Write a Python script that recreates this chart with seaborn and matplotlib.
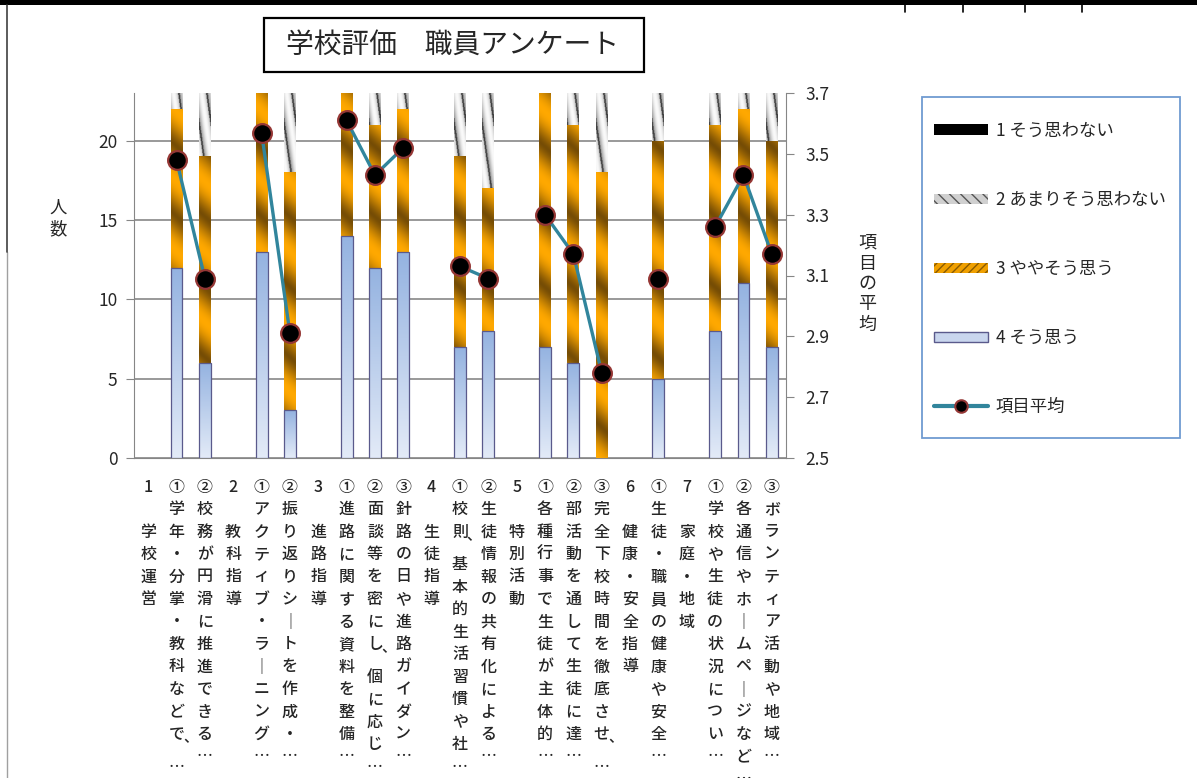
import numpy as np
import pandas as pd
import matplotlib
matplotlib.use("Agg")
import matplotlib.pyplot as plt
from matplotlib.patches import Rectangle, Patch
from matplotlib.lines import Line2D
import seaborn as sns

# ==================== DATA ====================
items = [
    "1　学校運営",
    "①学年・分掌・教科などで、…",
    "②校務が円滑に推進できる…",
    "2　教科指導",
    "①アクティブ・ラーニング…",
    "②振り返りシートを作成・…",
    "3　進路指導",
    "①進路に関する資料を整備…",
    "②面談等を密にし、個に応じ…",
    "③針路の日や進路ガイダン…",
    "4　生徒指導",
    "①校則、基本的生活習慣や社…",
    "②生徒情報の共有化による…",
    "5　特別活動",
    "①各種行事で生徒が主体的…",
    "②部活動を通して生徒に達…",
    "③完全下校時間を徹底させ、…",
    "6　健康・安全指導",
    "①生徒・職員の健康や安全…",
    "7　家庭・地域",
    "①学校や生徒の状況につい…",
    "②各通信やホームページなど…",
    "③ボランティア活動や地域…",
]

# number of staff per answer (4 = そう思う ... 1 = そう思わない)
n4 = [0, 12, 6, 0, 13, 3, 0, 14, 12, 13, 0, 7, 8, 0, 7, 6, 0, 0, 5, 0, 8, 11, 7]
n3 = [0, 10, 13, 0, 10, 15, 0, 9, 9, 9, 0, 12, 9, 0, 16, 15, 18, 0, 15, 0, 13, 11, 13]
n2 = [0, 1, 4, 0, 0, 5, 0, 0, 2, 1, 0, 4, 6, 0, 0, 2, 5, 0, 3, 0, 2, 1, 3]
n1 = [0] * 23

# item average (right axis), headings have no value
avg = [np.nan, 3.48, 3.09, np.nan, 3.57, 2.91, np.nan, 3.61, 3.43, 3.52,
       np.nan, 3.13, 3.09, np.nan, 3.30, 3.17, 2.78, np.nan, 3.09,
       np.nan, 3.26, 3.43, 3.17]

legend_labels = ["1 そう思わない", "2 あまりそう思わない", "3 ややそう思う", "4 そう思う", "項目平均"]

# ==================== STYLE ====================
sns.set_style("white")
plt.rcParams['font.family'] = ['Noto Sans CJK JP', 'DejaVu Sans']

W, H = 1197, 778
AX_L, AX_R, AX_T, AX_B = 134, 786, 93, 458
GRAY = "#868686"
TEAL = "#31859C"
LAB_FS = 11.5

fig = plt.figure(figsize=(W / 100, H / 100), dpi=100)
ax = fig.add_axes([AX_L / W, 1 - AX_B / H, (AX_R - AX_L) / W, (AX_B - AX_T) / H])

df = pd.DataFrame({"item": items, "n4": n4, "n3": n3, "n2": n2, "n1": n1})
df["c3"] = df["n4"] + df["n3"]
df["c2"] = df["c3"] + df["n2"]
df["c1"] = df["c2"] + df["n1"]

# stacked bars: draw cumulative heights, tallest first
layers = [("c1", "#000000"), ("c2", "#C8C8C8"), ("c3", "#F0A000"), ("n4", "#B4C7E7")]
bars = {}
for z, (col, colr) in enumerate(layers):
    n0 = len(ax.patches)
    sns.barplot(data=df, x="item", y=col, order=items, color=colr, saturation=1,
                width=0.42, errorbar=None, linewidth=0, zorder=2 + z, ax=ax)
    bars[col] = ax.patches[n0:]

# ---- gradient fills clipped to the bars ----
PX_X = (AX_R - AX_L) / 23
PX_Y = (AX_B - AX_T) / 23


def orange_fill(h, w):
    ny, nx = max(int(h * PX_Y), 2), max(int(w * PX_X), 2)
    v = np.arange(ny)[:, None]
    u = np.arange(nx)[None, :]
    t = (0.5 + 0.5 * np.cos(2 * np.pi * (v + 1.0 * u) / 70.0)) ** 0.7
    light = np.array([1.0, 0.66, 0.0])
    dark = np.array([0.46, 0.30, 0.02])
    return dark + (light - dark) * t[..., None]


def gray_fill(h, w):
    ny, nx = max(int(h * PX_Y), 2), max(int(w * PX_X) * 2, 4)
    v = np.arange(ny)[:, None]
    u = np.arange(nx)[None, :] / 2.0
    ph = ((u + 0.13 * v) / 11.0) % 1
    val = 0.60 + 0.38 * np.sin(np.pi * ph)
    val[ph > 0.86] = 0.25
    return np.repeat(val[..., None], 3, axis=2)


def blue_fill(h):
    ny = max(int(h * PX_Y), 2)
    t = np.linspace(0, 1, ny)[:, None, None]
    bot = np.array([0.89, 0.92, 0.97])
    top = np.array([0.58, 0.70, 0.88])
    return (bot + (top - bot) * t) * np.ones((1, 2, 1))


for col, maker in [("c2", "gray"), ("c3", "orange"), ("n4", "blue")]:
    for p in bars[col]:
        h, w, x0 = p.get_height(), p.get_width(), p.get_x()
        if h <= 0:
            continue
        if maker == "gray":
            img = gray_fill(h, w)
        elif maker == "orange":
            img = orange_fill(h, w)
        else:
            img = blue_fill(h)
        im = ax.imshow(img, extent=(x0, x0 + w, 0, h), origin="lower", aspect="auto",
                       interpolation="bilinear", zorder=p.get_zorder() + 0.1)
        im.set_clip_path(p)
        if maker == "blue":
            p.set_facecolor("none")
            p.set_edgecolor("#5A5A8C")
            p.set_linewidth(0.9)
            p.set_zorder(p.get_zorder() + 0.2)

ax.set_xlim(-0.5, 22.5)
ax.set_ylim(0, 23)
ax.set_xlabel("")
ax.set_ylabel("")
ax.set_yticks([0, 5, 10, 15, 20])
ax.set_xticks(range(23))
ax.set_xticklabels([])
ax.set_xticks(np.arange(-0.5, 23, 1), minor=True)
ax.tick_params(axis="x", which="major", length=0)
ax.tick_params(axis="x", which="minor", direction="out", length=6, color=GRAY)
ax.tick_params(axis="y", direction="out", length=6, color=GRAY, labelsize=12.5, pad=6)
ax.yaxis.grid(True, color="#878787", linewidth=1.2)
ax.set_axisbelow(True)
for s in ["top", "right"]:
    ax.spines[s].set_visible(False)
for s in ["left", "bottom"]:
    ax.spines[s].set_color(GRAY)

# ---- average line on the right axis ----
ax2 = ax.twinx()
ax2.plot(range(23), avg, color=TEAL, lw=2.4, marker="o", ms=13.5,
         mfc="black", mec="#953735", mew=1.6, zorder=5)
ax2.set_ylim(2.5, 3.7)
ax2.set_yticks(np.round(np.arange(2.5, 3.71, 0.2), 1))
ax2.set_yticklabels([f"{t:.1f}" for t in np.arange(2.5, 3.71, 0.2)])
ax2.tick_params(axis="y", direction="out", length=6, color=GRAY, labelsize=12.5, pad=8)
for s in ["top", "left", "bottom"]:
    ax2.spines[s].set_visible(False)
ax2.spines["right"].set_color(GRAY)

# ---- vertical (stacked) category labels ----
ROW = 22.5
Y0 = 27
for i, lab in enumerate(items):
    y = Y0
    prev_y = y
    for ch in lab:
        if ch == "、":
            ax.annotate(ch, xy=(i, 0), xycoords=("data", "axes fraction"),
                        xytext=(14, -(prev_y + 6)), textcoords="offset pixels",
                        ha="center", va="center", fontsize=LAB_FS - 1,
                        fontweight="medium", annotation_clip=False)
            y += 0.45 * ROW
            continue
        glyph = "｜" if ch == "ー" else ch
        ax.annotate(glyph, xy=(i, 0), xycoords=("data", "axes fraction"),
                    xytext=(0, -(y + 6.5)), textcoords="offset pixels",
                    ha="center", va="baseline", fontsize=LAB_FS,
                    fontweight="medium", annotation_clip=False)
        prev_y = y
        y += ROW

# axis titles (stacked characters)
for k, ch in enumerate("人数"):
    fig.text(58 / W, 1 - (208 + 21 * k) / H, ch, fontsize=12.5, ha="center", va="center")
for k, ch in enumerate("項目の平均"):
    fig.text(867 / W, 1 - (243 + 20.5 * k) / H, ch, fontsize=13, ha="center", va="center")

# ---- title box ----
fig.add_artist(Rectangle((264 / W, 1 - 72 / H), (644 - 264) / W, (72 - 18) / H,
                         transform=fig.transFigure, fill=False, ec="black", lw=1.6))
fig.text(452 / W, 1 - 45 / H, "学校評価　職員アンケート", fontsize=20, ha="center", va="center")

# ---- legend ----
handles = [
    Patch(facecolor="black", edgecolor="black", lw=0),
    Patch(facecolor="#D0D0D0", edgecolor="#555555", hatch="\\\\\\", lw=0),
    Patch(facecolor="#F0A000", edgecolor="#8A5A00", hatch="////", lw=0),
    Patch(facecolor="#C9D6EE", edgecolor="#5A5A8C", lw=1),
    Line2D([0, 1], [0, 0], color=TEAL, lw=3, marker="o", ms=9, mfc="black",
           mec="#953735", mew=1.5),
]
fig.legend(handles=handles, labels=legend_labels, loc="upper left",
           bbox_to_anchor=(934 / W, 1 - 122 / H), frameon=False, borderpad=0,
           borderaxespad=0, handlelength=3.1, handleheight=0.58, handletextpad=0.46,
           labelspacing=2.94, fontsize=12.5, numpoints=1)
fig.add_artist(Rectangle((922 / W, 1 - 438 / H), (1180 - 922) / W, (438 - 97) / H,
                         transform=fig.transFigure, fill=False, ec="#6F9BD1", lw=1.3))

# ---- sheet frame bits ----
fig.add_artist(Rectangle((0, 1 - 5 / H), 1, 5 / H, transform=fig.transFigure,
                         color="black", lw=0))
fig.add_artist(Line2D([7 / W, 7 / W], [0, 1 - 252 / H], transform=fig.transFigure,
                      color="#A0A0A0", lw=1))
fig.add_artist(Line2D([7 / W, 7 / W], [1 - 252 / H, 1 - 5 / H], transform=fig.transFigure,
                      color="#404040", lw=1.2))
for xp in [905, 963, 1025, 1082]:
    fig.add_artist(Line2D([xp / W, xp / W], [1 - 12 / H, 1 - 5 / H],
                          transform=fig.transFigure, color="black", lw=1.2))

fig.savefig("out.png", dpi=100)
